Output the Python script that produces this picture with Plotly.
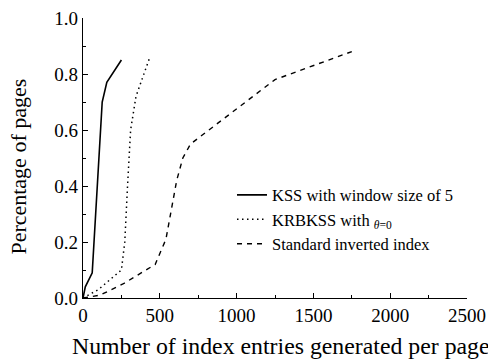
import plotly.graph_objects as go

kss_x = [0, 15, 60, 125, 155, 205, 250]
kss_y = [0, 0.04, 0.09, 0.70, 0.77, 0.81, 0.85]

krb_x = [0, 100, 250, 272, 290, 310, 345, 435]
krb_y = [0, 0.03, 0.10, 0.20, 0.40, 0.60, 0.72, 0.86]

std_x = [0, 110, 260, 470, 540, 610, 650, 700, 760, 1250, 1750]
std_y = [0, 0.01, 0.05, 0.12, 0.21, 0.42, 0.50, 0.55, 0.575, 0.78, 0.88]

names = ["KSS with window size of 5", "KRBKSS with <sub><i>θ</i>=0</sub>", "Standard inverted index"]
x_title = "Number of index entries generated per page"
y_title = "Percentage of pages"

fig = go.Figure()
fig.add_trace(go.Scatter(x=kss_x, y=kss_y, mode="lines", name=names[0],
                         line=dict(color="black", width=1.6)))
fig.add_trace(go.Scatter(x=krb_x, y=krb_y, mode="lines", name=names[1],
                         line=dict(color="black", width=1.5, dash="1.5px,3.5px")))
fig.add_trace(go.Scatter(x=std_x, y=std_y, mode="lines", name=names[2],
                         line=dict(color="black", width=1.4, dash="5px,5px")))

font = "Liberation Serif"
tf = dict(family=font, size=19, color="black")
# page body has an 8px margin; figure is shrunk by 8px so the plot area lands where the reference's does
fig.update_layout(
    width=488, height=354,
    margin=dict(l=75, r=29, t=10, b=64),
    paper_bgcolor="white", plot_bgcolor="white",
    font=dict(family=font, size=18, color="black"),
    legend=dict(x=0.388, y=0.43, xanchor="left", yanchor="top",
                bgcolor="rgba(0,0,0,0)", font=dict(family=font, size=16.5, color="black"),
                tracegroupgap=0, itemwidth=30),
    xaxis=dict(range=[0, 2500], showline=True, linecolor="black", linewidth=1.2,
               ticks="inside", ticklen=5, tickwidth=1.2, tickcolor="black",
               dtick=500, showgrid=False, zeroline=False, automargin=False,
               tickfont=tf, ticklabeloverflow="allow",
               minor=dict(ticks="inside", ticklen=3, dtick=250, tickcolor="black", tickwidth=1.2)),
    yaxis=dict(range=[0, 1.0], showline=True, linecolor="black", linewidth=1.2,
               ticks="inside", ticklen=5, tickwidth=1.2, tickcolor="black",
               dtick=0.2, tickformat=".1f", showgrid=False, zeroline=False, automargin=False,
               tickfont=tf, ticklabeloverflow="allow",
               minor=dict(ticks="inside", ticklen=3, dtick=0.1, tickcolor="black", tickwidth=1.2)),
    annotations=[
        dict(text=x_title, xref="paper", yref="paper", x=0.515, y=-0.17,
             xanchor="center", yanchor="middle", showarrow=False,
             font=dict(family=font, size=23.8, color="black")),
        dict(text=y_title, xref="paper", yref="paper", x=-0.168, y=0.471, textangle=-90,
             xanchor="center", yanchor="middle", showarrow=False,
             font=dict(family=font, size=22, color="black")),
    ],
)
fig.write_html("out.html")
